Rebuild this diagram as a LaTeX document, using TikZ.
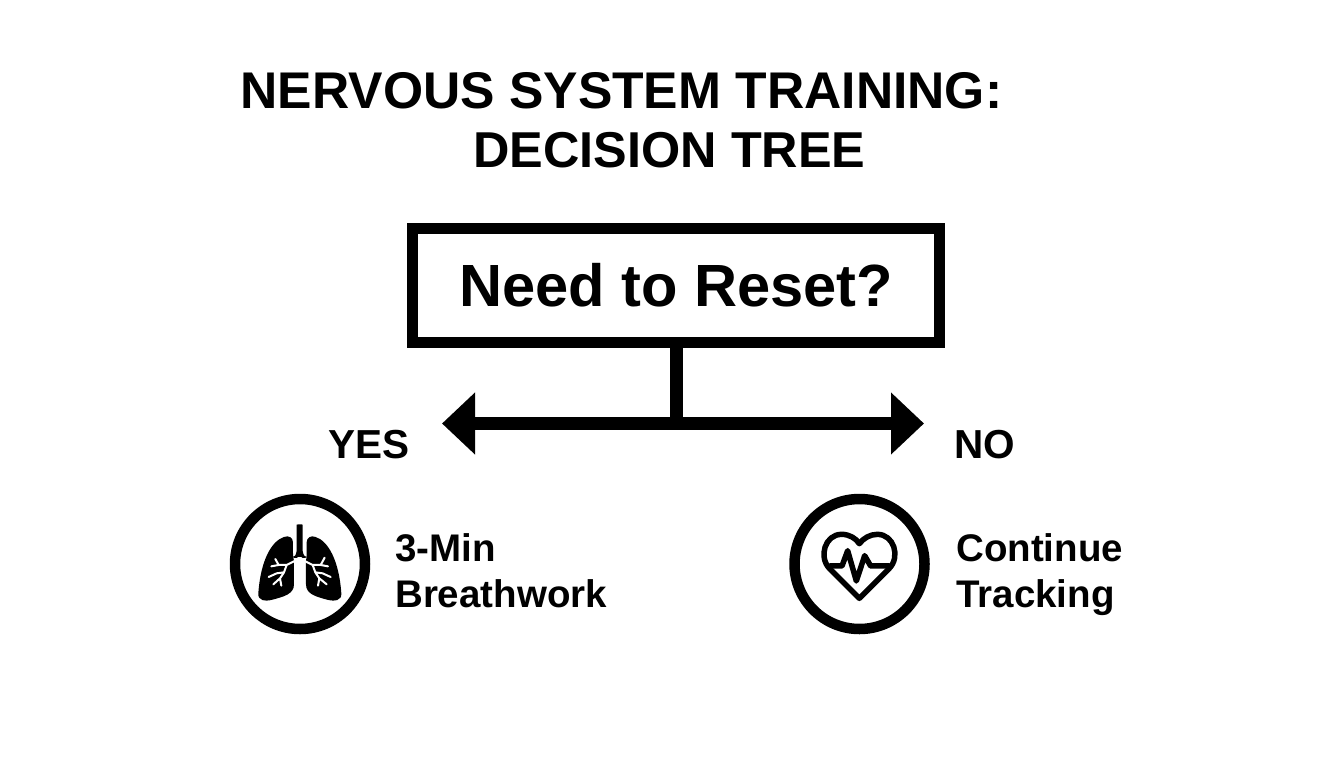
\documentclass[tikz,border=0pt]{standalone}
\usepackage{fontspec}
\setmainfont{Liberation Sans}
\usetikzlibrary{arrows.meta}
\definecolor{ink}{HTML}{000000}
\tikzset{
  lbl/.style={font=\bfseries\fontsize{#1}{#1}\selectfont,text=ink,inner sep=0pt},
  decision/.style={draw=ink,line width=11pt,fill=white,inner sep=0pt,minimum width=527pt,minimum height=114pt,font=\bfseries\fontsize{59.6}{60}\selectfont,text=ink},
  ring/.style={circle,draw=ink,line width=10.5pt,fill=white,minimum size=130pt,inner sep=0pt},
  wire/.style={draw=ink,line width=13pt},
  side/.style={lbl=38.5,align=left,anchor=west},
  branch/.style={lbl=40.5}
}
\begin{document}
\begin{tikzpicture}[x=1pt,y=-1pt]
\useasboundingbox (0,0) rectangle (1344,768);
\fill[white] (0,0) rectangle (1344,768);
\node[lbl=51.6] (t1) at (621.5,91) {NERVOUS SYSTEM TRAINING:};
\node[lbl=50.4] (t2) at (669.5,150) {DECISION TREE};
\node[decision] (q) at (676,285.5) {\raisebox{-2pt}{Need to Reset?}};
\coordinate (j) at (676,423.5);
\coordinate (al) at (442,423.5);
\coordinate (ar) at (924,423.5);
\draw[wire,{Triangle[length=33pt,width=60pt]}-{Triangle[length=33pt,width=60pt]}] (al) -- (ar);
\draw[wire] (q.south) -- (j);
\node[branch] (yes) at (369,445) {YES};
\node[branch] (no) at (984.5,445) {NO};
\node[ring] (c1) at (300,564) {};
\node[ring] (c2) at (859.5,564) {};
\node[side] (s1) at (395,570.5) {3-Min\\[7pt]Breathwork};
\node[side] (s2) at (956,574.5) {Continue\\[7pt]Tracking};
% lungs (coordinates in zoomed crop px)
\begin{scope}[shift={(220,485)},x=0.3333pt,y=-0.3333pt]
 \fill[ink,rounded corners=2pt] (230,125) to[out=90,in=180] (239,118) to[out=0,in=90] (248,125) -- (248,192) to[out=-90,in=180] (262,214) -- (252,222) -- (239,212) -- (226,222) -- (216,214) to[out=0,in=-90] (230,192) -- cycle;
 \fill[ink] (219,172) .. controls (219,158) and (206,150) .. (192,156) .. controls (155,168) and (122,225) .. (115,325) .. controls (113,347) and (135,350) .. (158,344) .. controls (190,335) and (222,328) .. (222,298) -- (222,228) .. controls (222,222) and (218,214) .. (219,205) -- cycle;
 \fill[ink] (260,172) .. controls (260,158) and (273,150) .. (287,156) .. controls (324,168) and (357,225) .. (364,325) .. controls (366,347) and (344,350) .. (321,344) .. controls (289,335) and (258,328) .. (258,298) -- (258,228) .. controls (258,222) and (261,214) .. (260,205) -- cycle;
 \draw[white,line width=2pt,line cap=round,line join=round]
   (224,228) -- (200,240) -- (192,262) -- (180,280) -- (184,302)
   (200,240) -- (176,240) -- (154,244)
   (176,240) -- (166,222)
   (192,262) -- (170,265) -- (146,276)
   (180,280) -- (160,298)
   (254,228) -- (278,240) -- (286,262) -- (298,280) -- (294,302)
   (278,240) -- (302,240) -- (324,244)
   (302,240) -- (314,218)
   (286,262) -- (308,265) -- (332,276)
   (298,280) -- (320,298);
\end{scope}
% heart with pulse
\begin{scope}[shift={(780,485)},x=0.3333pt,y=-0.3333pt]
 \draw[ink,line width=5.5pt,line join=round] (238,340) -- (148,250) .. controls (115,215) and (135,148) .. (185,148) .. controls (208,148) and (228,160) .. (238,176) .. controls (250,160) and (270,148) .. (292,148) .. controls (342,148) and (362,215) .. (328,250) -- cycle;
 \draw[ink,line width=5.5pt,line join=round,line cap=round] (150,243) -- (186,243) -- (203,197) -- (229,288) -- (254,212) -- (272,243) -- (328,243);
\end{scope}
\end{tikzpicture}
\end{document}
